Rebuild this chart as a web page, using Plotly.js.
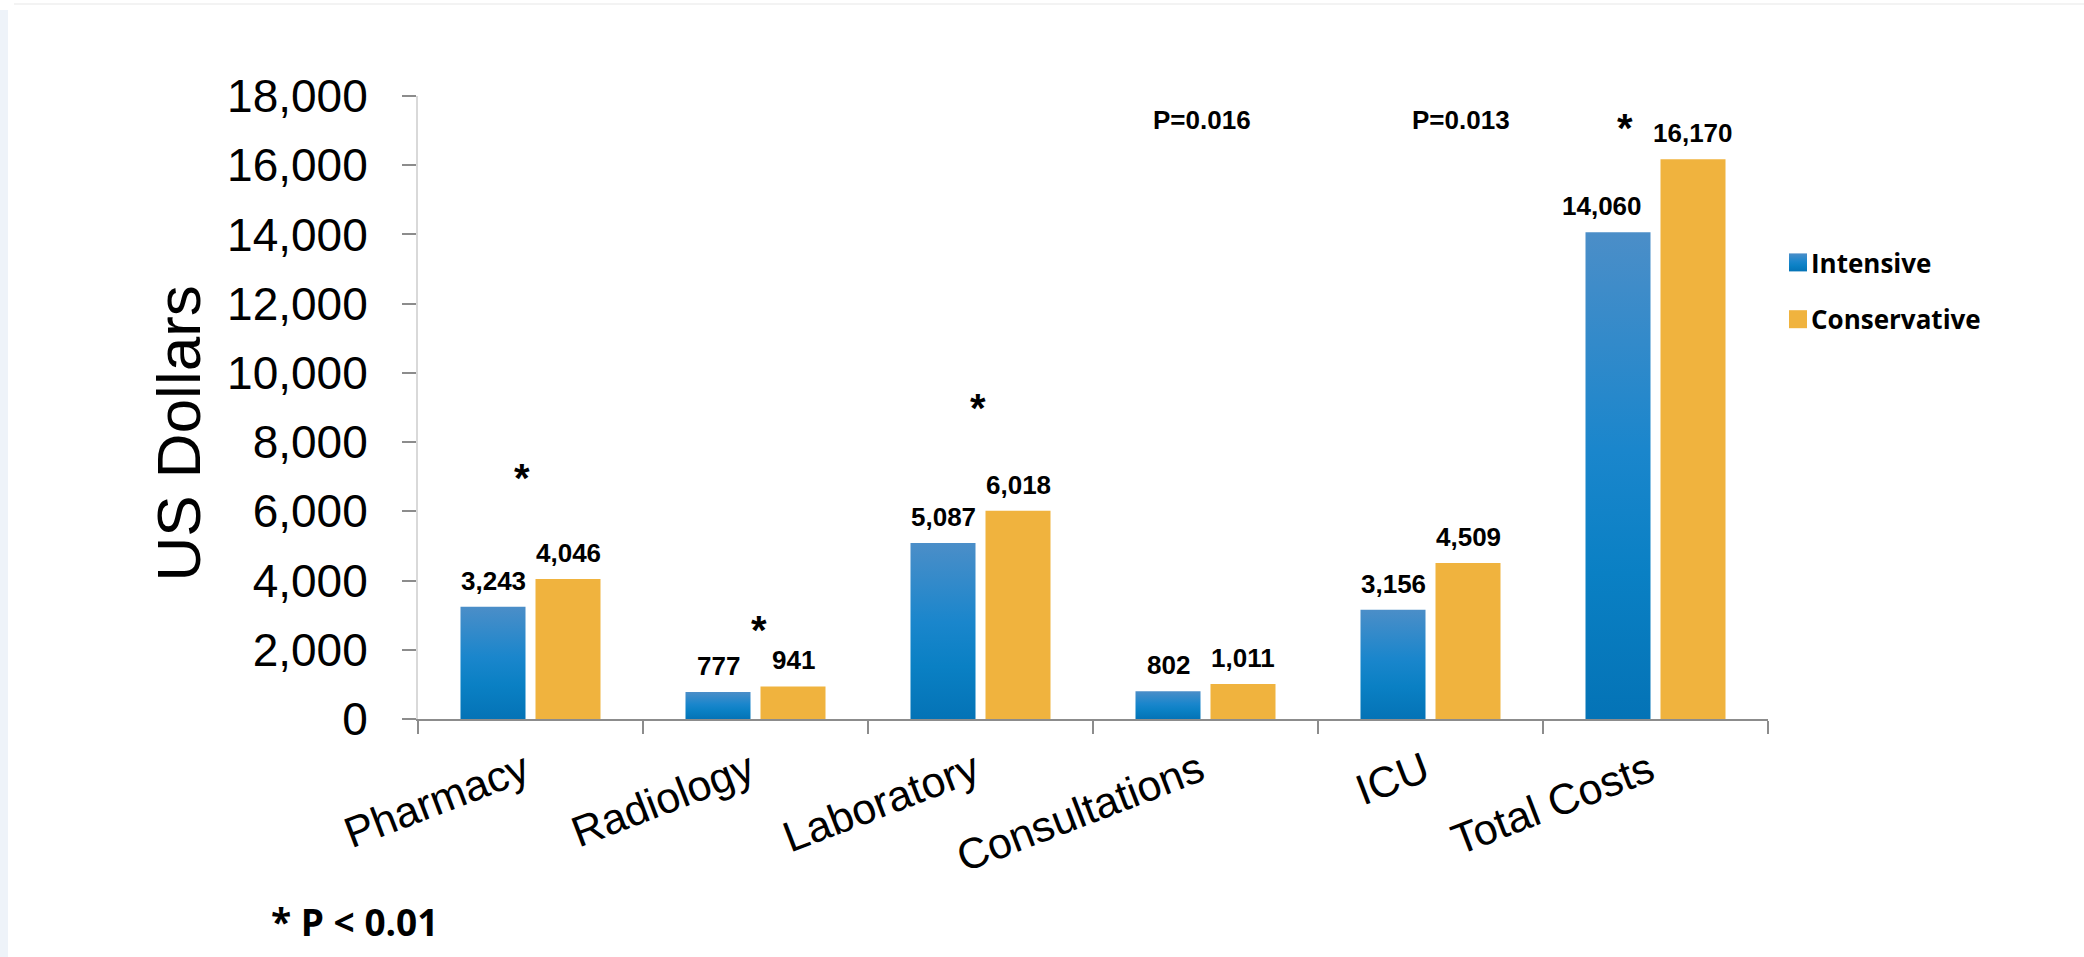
<!DOCTYPE html>
<html>
<head>
<meta charset="utf-8">
<script src="https://cdn.plot.ly/plotly-3.0.1.min.js"></script>
<style>
  html, body { margin: 0; padding: 0; background: #ffffff; }
  #chart { width: 2084px; height: 957px; }
</style>
</head>
<body>
<div id="chart"></div>
<script>
// Hospital cost categories and mean cost per patient (US dollars) for each strategy
const categories = ['Pharmacy', 'Radiology', 'Laboratory', 'Consultations', 'ICU', 'Total Costs'];
const intensive = [3243, 777, 5087, 802, 3156, 14060];
const conservative = [4046, 941, 6018, 1011, 4509, 16170];

// Significance markers: '*' means P < 0.01, others carry their own P value
const starCategories = ['Pharmacy', 'Radiology', 'Laboratory', 'Total Costs'];
const pCategories = ['Consultations', 'ICU'];
const pTexts = ['P=0.016', 'P=0.013'];

const yTickValues = [0, 2000, 4000, 6000, 8000, 10000, 12000, 14000, 16000, 18000];

// ---- page geometry ----
const W = 2084, H = 957;
const M = { l: 418, r: 316, t: 96, b: 238 };
const plotW = W - M.l - M.r, plotH = H - M.t - M.b;
const px2x = px => (px - M.l) / plotW;
const py2y = py => (H - M.b - py) / plotH;

const SANS = '"Liberation Sans", Arial, Helvetica, sans-serif';
const UI = '"Open Sans", "Noto Sans", sans-serif';
const BLUE = '#1683c9';
const ORANGE = '#f0b33e';

const fmt = v => v.toLocaleString('en-US');

// half a bar slot, in pixels: bars sit either side of the category centre
const slotShift = 37.5;
// the wide total label sits a little left of its bar
const intensiveLabelNudge = [0, 0, 0, 0, 0, -16];

const annotations = [];

// value labels above each bar
categories.forEach((c, i) => {
  annotations.push({
    x: c, y: intensive[i], xref: 'x', yref: 'y',
    xshift: -slotShift + intensiveLabelNudge[i], yshift: 9,
    xanchor: 'center', yanchor: 'bottom', showarrow: false,
    text: '<b>' + fmt(intensive[i]) + '</b>',
    font: { family: SANS, size: 26, color: '#000' }
  });
  annotations.push({
    x: c, y: conservative[i], xref: 'x', yref: 'y', xshift: slotShift, yshift: 9,
    xanchor: 'center', yanchor: 'bottom', showarrow: false,
    text: '<b>' + fmt(conservative[i]) + '</b>',
    font: { family: SANS, size: 26, color: '#000' }
  });
});

// asterisk placement (pixel offsets from category centre, page y)
const starPlacement = {
  'Pharmacy':    { dx: -8.5, py: 478 },
  'Radiology':   { dx: 3.5,  py: 630 },
  'Laboratory':  { dx: -2.5, py: 408 },
  'Total Costs': { dx: -30.5, py: 128 }
};
starCategories.forEach(c => {
  const p = starPlacement[c];
  annotations.push({
    x: c, xref: 'x', xshift: p.dx, y: py2y(p.py), yref: 'paper',
    xanchor: 'center', yanchor: 'middle',
    showarrow: false, text: '<b>*</b>',
    font: { family: SANS, size: 40, color: '#000' }
  });
});

// P value notes
const pShift = [-3.5, 30.5];
pCategories.forEach((c, i) => {
  annotations.push({
    x: c, xref: 'x', xshift: pShift[i], y: py2y(120), yref: 'paper',
    xanchor: 'center', yanchor: 'middle',
    showarrow: false, text: '<b>' + pTexts[i] + '</b>',
    font: { family: SANS, size: 26, color: '#000' }
  });
});

// footnote
annotations.push({
  x: px2x(354), xref: 'paper', y: py2y(921), yref: 'paper',
  xanchor: 'center', yanchor: 'middle',
  showarrow: false, text: '* P < 0.01',
  font: { family: UI, size: 37, color: '#000', weight: 'bold' }
});

const traces = [
  {
    type: 'bar', name: 'Intensive', x: categories, y: intensive,
    marker: { color: BLUE, line: { width: 0 } },
    legendgroup: 'intensive', hoverinfo: 'skip'
  },
  {
    type: 'bar', name: 'Conservative', x: categories, y: conservative,
    marker: { color: ORANGE, line: { width: 0 } },
    legendgroup: 'conservative', hoverinfo: 'skip'
  }
];

const layout = {
  width: W, height: H,
  margin: M,
  paper_bgcolor: '#ffffff',
  plot_bgcolor: '#ffffff',
  barmode: 'group',
  bargap: 1 / 3,
  bargroupgap: 0.1333,
  font: { family: SANS, color: '#000' },
  showlegend: true,
  legend: {
    x: px2x(1771), y: py2y(239), xanchor: 'left', yanchor: 'top',
    font: { family: UI, size: 26, color: '#000', weight: 'bold' },
    bgcolor: 'rgba(0,0,0,0)', borderwidth: 0,
    tracegroupgap: 20, itemclick: false, itemdoubleclick: false
  },
  xaxis: {
    type: 'category',
    tickson: 'boundaries',
    ticks: 'outside', ticklen: 13, tickwidth: 2, tickcolor: '#8c8c8c',
    showline: true, linecolor: '#8c8c8c', linewidth: 2,
    showgrid: false, zeroline: false,
    tickangle: -21,
    tickfont: { family: SANS, size: 43, color: '#000' },
    ticklabelstandoff: 8,
    ticklabelshift: -6,
    fixedrange: true
  },
  yaxis: {
    range: [0, 18000],
    tickvals: yTickValues,
    tickformat: ',d',
    ticks: 'outside', ticklen: 14, tickwidth: 2, tickcolor: '#8c8c8c',
    showline: true, linecolor: '#d9d9d9', linewidth: 2,
    showgrid: false, zeroline: false,
    tickfont: { family: SANS, size: 46, color: '#000' },
    ticklabelstandoff: 25,
    title: {
      text: 'US Dollars&nbsp;&nbsp;&nbsp;',
      font: { family: SANS, size: 62, color: '#000' },
      standoff: 6
    },
    fixedrange: true
  },
  shapes: [
    // pale slide edge on the left and a faint rule along the top
    { type: 'rect', xref: 'paper', yref: 'paper', layer: 'below',
      x0: px2x(0), x1: px2x(8), y0: py2y(H), y1: py2y(10),
      fillcolor: '#eef3f9', line: { width: 0 } },
    { type: 'rect', xref: 'paper', yref: 'paper', layer: 'below',
      x0: px2x(14), x1: px2x(W), y0: py2y(5), y1: py2y(3),
      fillcolor: '#f3f3f3', line: { width: 0 } }
  ],
  annotations: annotations
};

const gd = document.getElementById('chart');

// Blue bars carry a vertical gradient: lighter steel blue on top, deep blue at the base
function applyGradient() {
  const svg = gd.querySelector('svg.main-svg');
  if (!svg) return;
  let defs = svg.querySelector('defs');
  if (!defs) {
    defs = document.createElementNS('http://www.w3.org/2000/svg', 'defs');
    svg.insertBefore(defs, svg.firstChild);
  }
  if (!svg.querySelector('#intensiveGrad')) {
    const g = document.createElementNS('http://www.w3.org/2000/svg', 'linearGradient');
    g.setAttribute('id', 'intensiveGrad');
    g.setAttribute('x1', '0'); g.setAttribute('y1', '0');
    g.setAttribute('x2', '0'); g.setAttribute('y2', '1');
    [['0', '#4b8ec8'], ['0.45', '#1a86cc'], ['0.7', '#0a80c4'], ['1', '#0473b6']].forEach(([o, c]) => {
      const s = document.createElementNS('http://www.w3.org/2000/svg', 'stop');
      s.setAttribute('offset', o); s.setAttribute('stop-color', c);
      g.appendChild(s);
    });
    defs.appendChild(g);
  }
  const barTraces = gd.querySelectorAll('.barlayer .trace');
  if (barTraces[0]) {
    barTraces[0].querySelectorAll('path').forEach(p => { p.style.fill = 'url(#intensiveGrad)'; });
  }
  // larger square legend swatches, kept clear of the legend text
  const legendPaths = gd.querySelectorAll('.legend .legendpoints path');
  legendPaths.forEach((p, i) => {
    p.setAttribute('d', 'M16,9H-2V-9H16Z');
    if (i === 0) p.style.fill = 'url(#intensiveGrad)';
  });
}

Plotly.newPlot(gd, traces, layout, { staticPlot: true, displayModeBar: false }).then(() => {
  applyGradient();
  gd.on && gd.on('plotly_afterplot', applyGradient);
});
</script>
</body>
</html>
